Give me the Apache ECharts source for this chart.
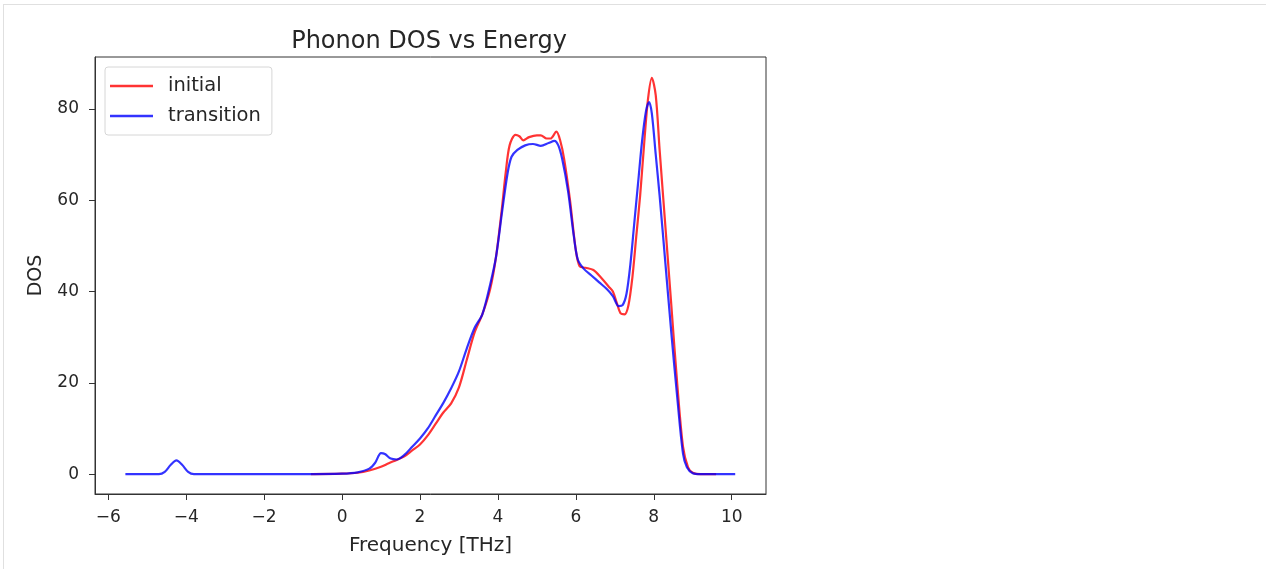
<!DOCTYPE html>
<html>
<head>
<meta charset="utf-8">
<script src="https://cdn.jsdelivr.net/npm/echarts@6/dist/echarts.min.js"></script>
<style>
html,body{margin:0;padding:0;background:#fff;}
#frame{position:absolute;left:3px;top:4px;width:1263px;height:565px;border-top:1px solid #e0e0e0;border-left:1px solid #e0e0e0;box-sizing:border-box;}
#chart{position:absolute;left:0;top:0;width:1266px;height:569px;}
</style>
</head>
<body>
<div id="frame"></div>
<div id="chart"></div>
<script>
const titleText = 'Phonon DOS vs Energy';
const xName = 'Frequency [THz]';
const yName = 'DOS';
const xTicks = [-6, -4, -2, 0, 2, 4, 6, 8, 10];
const yTicks = [0, 20, 40, 60, 80];

const freqTransition = [-5.56,-4.7,-4.55,-4.4,-4.25,-4.1,-3.95,-3.8,-1,0,0.4,0.7,0.85,1.0,1.1,1.25,1.4,1.6,1.8,2.0,2.2,2.4,2.6,2.8,3.0,3.2,3.4,3.6,3.8,3.95,4.1,4.25,4.35,4.5,4.7,4.9,5.1,5.3,5.45,5.55,5.65,5.8,5.95,6.05,6.2,6.4,6.6,6.8,6.95,7.1,7.2,7.3,7.4,7.5,7.6,7.7,7.8,7.88,7.95,8.05,8.15,8.3,8.45,8.6,8.75,8.85,9.0,9.2,10.09];
const dosTransition = [0,0,0.5,2,3,2,0.5,0,0,0.1,0.4,1.2,2.5,4.6,4.4,3.4,3.2,4.2,6.0,7.8,10.0,12.8,15.6,18.8,22.5,27.5,32.0,35.0,41.5,47.5,57,66,69.5,71,72,72.3,71.9,72.5,73,72,69,62,52,47,45,43.5,42,40.5,39,36.8,37,39.5,46,55,64,73,79.5,81.5,79,70,61,46,31,17,4.5,1.5,0.2,0,0];

const freqInitial = [-0.8,0,0.4,0.7,1.0,1.2,1.4,1.6,1.8,2.0,2.2,2.4,2.6,2.8,3.0,3.2,3.4,3.6,3.8,3.95,4.1,4.2,4.3,4.45,4.55,4.65,4.8,5.0,5.1,5.25,5.35,5.5,5.6,5.7,5.85,6.0,6.1,6.25,6.45,6.65,6.85,6.95,7.05,7.15,7.25,7.35,7.45,7.55,7.65,7.75,7.85,7.95,8.05,8.15,8.3,8.45,8.6,8.75,8.88,9.0,9.2,9.6];
const dosInitial = [0,0.1,0.3,0.8,1.6,2.4,3.1,3.9,5.2,6.5,8.5,11.0,13.5,15.5,19.0,25.0,31.0,35.0,40.5,47.5,58,66,72,74.3,74,73.1,73.8,74.2,74.2,73.5,73.5,75,73,69,60,49,45.5,45.2,44.7,43,41,40,37.5,35.2,35,37,43,52,61,72,82,86.8,83,71,54,37,20,6,1.5,0.3,0,0];

const zip = (xs, ys) => xs.map((x, i) => [x, ys[i]]);
const fmt = v => (v < 0 ? '\u2212' + Math.abs(v) : String(v));
const FONT = 'DejaVu Sans';
const TXT = '#262626';

const chart = echarts.init(document.getElementById('chart'), null, {renderer: 'canvas'});
chart.setOption({
  animation: false,
  backgroundColor: 'transparent',
  title: {
    text: titleText,
    left: 424,
    top: 25,
    textAlign: 'center',
    textStyle: {fontFamily: FONT, fontSize: 24, fontWeight: 'normal', color: TXT}
  },
  legend: {
    orient: 'vertical',
    left: 105,
    top: 67,
    padding: [9, 11, 9, 5],
    icon: 'rect',
    itemWidth: 43,
    itemHeight: 2.5,
    itemGap: 10,
    borderColor: '#d6d6d6',
    borderWidth: 1,
    borderRadius: 3,
    backgroundColor: '#fff',
    textStyle: {fontFamily: FONT, fontSize: 19.5, color: TXT, padding: [0, 0, 0, 10]},
    data: ['initial', 'transition']
  },
  grid: {
    left: 95, right: 500, top: 57, bottom: 75,
    show: true, borderColor: '#333', borderWidth: 1, backgroundColor: 'transparent'
  },
  xAxis: {
    type: 'value',
    min: -6.34, max: 10.88,
    name: xName,
    nameLocation: 'middle',
    nameGap: 42,
    nameTextStyle: {fontFamily: FONT, fontSize: 20, color: TXT},
    axisLine: {show: true, onZero: false, lineStyle: {color: '#333', width: 1}},
    axisTick: {show: true, inside: false, length: 6, customValues: xTicks, lineStyle: {color: '#333'}},
    axisLabel: {customValues: xTicks, formatter: fmt, margin: 15, fontFamily: FONT, fontSize: 17, color: TXT},
    splitLine: {show: false}
  },
  yAxis: {
    type: 'value',
    min: -4.35, max: 91.35,
    name: yName,
    nameLocation: 'middle',
    nameGap: 49,
    nameTextStyle: {fontFamily: FONT, fontSize: 19, color: TXT},
    axisLine: {show: true, onZero: false, lineStyle: {color: '#333', width: 1}},
    axisTick: {show: true, inside: false, length: 6, customValues: yTicks, lineStyle: {color: '#333'}},
    axisLabel: {customValues: yTicks, formatter: fmt, margin: 16, fontFamily: FONT, fontSize: 17, color: TXT},
    splitLine: {show: false}
  },
  series: [
    {
      name: 'initial', type: 'line', data: zip(freqInitial, dosInitial),
      symbol: 'none', smooth: 0.3,
      lineStyle: {color: 'rgba(255,0,0,0.8)', width: 2.2},
      itemStyle: {color: 'rgba(255,0,0,0.8)'}
    },
    {
      name: 'transition', type: 'line', data: zip(freqTransition, dosTransition),
      symbol: 'none', smooth: 0.3,
      lineStyle: {color: 'rgba(0,0,255,0.8)', width: 2.2},
      itemStyle: {color: 'rgba(0,0,255,0.8)'}
    }
  ]
});
</script>
</body>
</html>
